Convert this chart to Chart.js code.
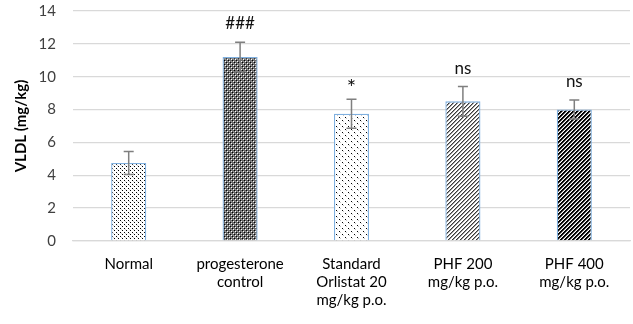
<!DOCTYPE html>
<html>
<head>
<meta charset="utf-8">
<script src="https://cdn.jsdelivr.net/npm/chart.js@4.4.0/dist/chart.umd.min.js"></script>
<style>
html,body{margin:0;padding:0;background:#fff;}
#wrap{width:633px;height:324px;position:relative;}
</style>
</head>
<body>
<div id="wrap"><canvas id="c" width="633" height="324"></canvas></div>
<script>
const categories = [
  ["Normal"],
  ["progesterone", "control"],
  ["Standard", "Orlistat 20", "mg/kg p.o."],
  ["PHF 200", "mg/kg p.o."],
  ["PHF 400", "mg/kg p.o."]
];
const vldlMeans = [4.75, 11.2, 7.75, 8.5, 8.0];
const vldlErrors = [0.7, 0.9, 0.88, 0.9, 0.58];
const significance = ["", "###", "*", "ns", "ns"];
const yTicks = [0, 2, 4, 6, 8, 10, 12, 14];

function makeTile(size, draw) {
  const cv = document.createElement('canvas');
  cv.width = size; cv.height = size;
  const g = cv.getContext('2d');
  draw(g);
  return g.createPattern(cv, 'repeat');
}

const patNormal = makeTile(4, g => {
  g.fillStyle = '#ffffff'; g.fillRect(0,0,4,4);
  g.fillStyle = '#000000'; g.fillRect(0,0,1,1); g.fillRect(2,2,1,1);
  g.fillStyle = '#d0d0d0'; g.fillRect(1,1,1,1);
});
const patProg = makeTile(4, g => {
  g.fillStyle = '#6a6a6a'; g.fillRect(0,0,4,4);
  g.fillStyle = '#000000'; g.fillRect(0,0,1,1); g.fillRect(2,2,1,1);
  g.fillStyle = '#ffffff'; g.fillRect(1,1,1,1); g.fillRect(3,3,1,1);
  g.fillStyle = '#9a9a9a'; g.fillRect(3,1,1,1); g.fillRect(1,3,1,1);
});
const patStd = makeTile(6, g => {
  g.fillStyle = '#ffffff'; g.fillRect(0,0,6,6);
  g.fillStyle = '#000000'; g.fillRect(0,0,1,1); g.fillRect(3,3,1,1);
  g.fillStyle = '#c8c8c8'; g.fillRect(1,1,1,1); g.fillRect(4,4,1,1);
});
const patPhf200 = makeTile(4, g => {
  g.fillStyle = '#ffffff'; g.fillRect(0,0,4,4);
  for (let i = 0; i < 4; i++) {
    g.fillStyle = '#3a3a3a'; g.fillRect(3 - i, i, 1, 1);
    g.fillStyle = '#9a9a9a'; g.fillRect((4 - i) % 4, i, 1, 1);
  }
});
const patPhf400 = makeTile(4, g => {
  g.fillStyle = '#ffffff'; g.fillRect(0,0,4,4);
  for (let i = 0; i < 4; i++) {
    g.fillStyle = '#000000'; g.fillRect(3 - i, i, 1, 1); g.fillRect((4 - i) % 4, i, 1, 1);
    g.fillStyle = '#8a8a8a'; g.fillRect((5 - i) % 4, i, 1, 1);
  }
});
const barPatterns = [patNormal, patProg, patStd, patPhf200, patPhf400];

const FONT = "Lato, 'Open Sans', sans-serif";

const errPlugin = {
  id: 'errbars',
  afterDatasetsDraw(chart) {
    const c = chart.ctx;
    const meta = chart.getDatasetMeta(0);
    const y = chart.scales.y;
    c.save();
    meta.data.forEach((bar, i) => {
      const x = bar.x;
      const top = y.getPixelForValue(vldlMeans[i] + vldlErrors[i]);
      const bot = y.getPixelForValue(vldlMeans[i] - vldlErrors[i]);
      c.strokeStyle = '#7f7f7f';
      c.lineWidth = 1.5;
      c.beginPath();
      c.moveTo(x, top); c.lineTo(x, bot);
      c.moveTo(x - 5, top); c.lineTo(x + 5, top);
      c.moveTo(x - 5, bot); c.lineTo(x + 5, bot);
      c.stroke();
      if (significance[i]) {
        const txt = significance[i];
        c.fillStyle = '#111111';
        c.font = (txt === '*' ? "22px " : "17px ") + FONT;
        c.textAlign = 'center';
        c.textBaseline = 'alphabetic';
        const m = c.measureText(txt);
        const desc = m.actualBoundingBoxDescent || 0;
        c.fillText(txt, x, top - 13 - desc);
      }
    });
    c.restore();
  }
};

new Chart(document.getElementById('c'), {
  type: 'bar',
  data: {
    labels: categories,
    datasets: [{
      data: vldlMeans,
      backgroundColor: barPatterns,
      borderColor: '#7fb0e0',
      borderWidth: 1.3,
      categoryPercentage: 1.0,
      barPercentage: 0.315
    }]
  },
  options: {
    responsive: false,
    animation: false,
    devicePixelRatio: 1,
    layout: { padding: { top: 11, right: 3, left: 12, bottom: 0 } },
    plugins: { legend: { display: false }, tooltip: { enabled: false } },
    scales: {
      y: {
        min: 0, max: 14,
        afterBuildTicks(scale) { scale.ticks = yTicks.map(v => ({ value: v })); },
        grid: { color: '#d9d9d9', lineWidth: 1.3, drawTicks: false },
        border: { display: false },
        ticks: { color: '#404040', font: { family: FONT, size: 15 }, padding: 17 },
        title: { display: true, text: 'VLDL (mg/kg)', color: '#000000', font: { family: FONT, size: 15, weight: 'bold' }, padding: { top: 0, bottom: 4 } },
        afterFit(scale) { scale.width = 61; scale.paddingTop = 0; scale.paddingBottom = 0; }
      },
      x: {
        grid: { display: false, drawTicks: false },
        border: { display: true, color: '#d9d9d9', width: 1.3 },
        ticks: { color: '#000000', font: { family: FONT, size: 15 }, padding: 14, maxRotation: 0, autoSkip: false },
        afterFit(scale) { scale.height = 83; }
      }
    }
  },
  plugins: [errPlugin]
});
</script>
</body>
</html>
